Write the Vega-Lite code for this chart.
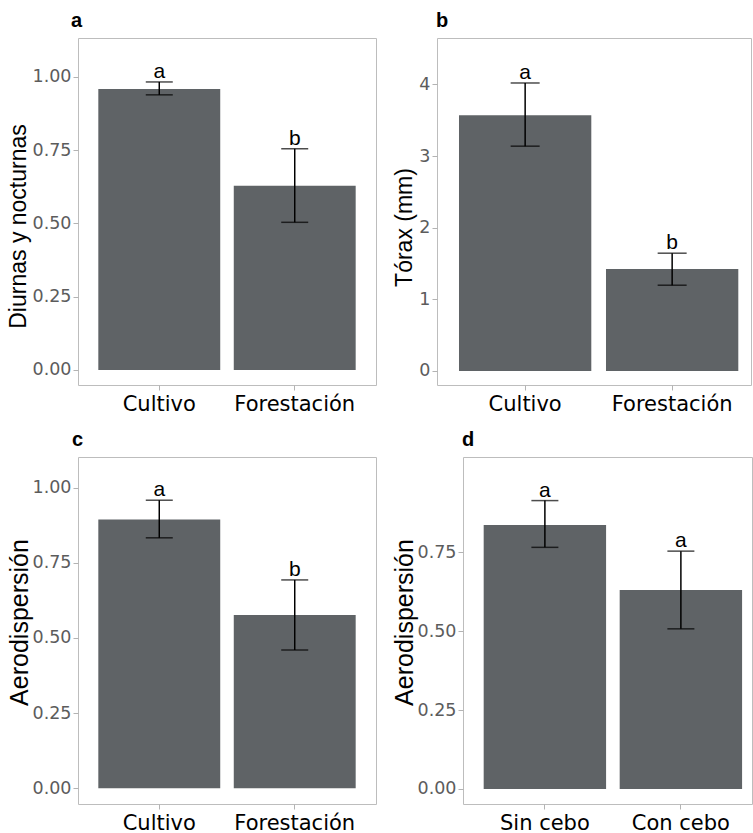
{
  "$schema": "https://vega.github.io/schema/vega-lite/v6.json",
  "padding": {"left": 6, "top": 10, "right": 0, "bottom": 0},
  "background": "white",
  "datasets": {
    "pa": [
      {"grupo": "Cultivo", "media": 0.959, "inf": 0.939, "sup": 0.983, "letra": "a"},
      {"grupo": "Forestación", "media": 0.629, "inf": 0.504, "sup": 0.755, "letra": "b"}
    ],
    "pb": [
      {"grupo": "Cultivo", "media": 3.571, "inf": 3.138, "sup": 4.02, "letra": "a"},
      {"grupo": "Forestación", "media": 1.425, "inf": 1.197, "sup": 1.644, "letra": "b"}
    ],
    "pc": [
      {"grupo": "Cultivo", "media": 0.894, "inf": 0.833, "sup": 0.958, "letra": "a"},
      {"grupo": "Forestación", "media": 0.576, "inf": 0.46, "sup": 0.693, "letra": "b"}
    ],
    "pd": [
      {"grupo": "Sin cebo", "media": 0.836, "inf": 0.765, "sup": 0.913, "letra": "a"},
      {"grupo": "Con cebo", "media": 0.63, "inf": 0.507, "sup": 0.753, "letra": "a"}
    ]
  },
  "vconcat": [
    {
      "hconcat": [
        {
          "title": {"text": "a", "dx": -7},
          "width": 298, "height": 347,
          "data": {"name": "pa"},
          "encoding": {
            "x": {"field": "grupo", "type": "nominal", "sort": null, "scale": {"paddingInner": 0.1, "paddingOuter": 0.15}}
          },
          "layer": [
            {"mark": {"type": "bar", "color": "#5f6366"},
             "encoding": {"y": {"field": "media", "type": "quantitative", "title": "Diurnas y nocturnas",
               "scale": {"domain": [-0.0512, 1.133], "nice": false, "zero": false},
               "axis": {"values": [0, 0.25, 0.5, 0.75, 1], "format": ".2f", "titleY": 188}}}},
            {"mark": {"type": "errorbar", "color": "black", "thickness": 1.5, "ticks": {"size": 27, "thickness": 1.5}},
             "encoding": {"y": {"field": "inf", "type": "quantitative", "title": "Diurnas y nocturnas"}, "y2": {"field": "sup"}}},
            {"mark": {"type": "text", "baseline": "alphabetic", "dy": -4, "fontSize": 21, "font": "Liberation Sans", "color": "black"},
             "encoding": {"y": {"field": "sup", "type": "quantitative", "title": "Diurnas y nocturnas"}, "text": {"field": "letra"}}}
          ]
        },
        {
          "title": {"text": "b", "dx": -1},
          "width": 314, "height": 347,
          "data": {"name": "pb"},
          "encoding": {
            "x": {"field": "grupo", "type": "nominal", "sort": null, "scale": {"paddingInner": 0.1, "paddingOuter": 0.118, "align": 0.634}}
          },
          "layer": [
            {"mark": {"type": "bar", "color": "#5f6366"},
             "encoding": {"y": {"field": "media", "type": "quantitative", "title": "Tórax (mm)",
               "scale": {"domain": [-0.196, 4.648], "nice": false, "zero": false},
               "axis": {"values": [0, 1, 2, 3, 4], "format": "d", "titleY": 189}}}},
            {"mark": {"type": "errorbar", "color": "black", "thickness": 1.5, "ticks": {"size": 29, "thickness": 1.5}},
             "encoding": {"y": {"field": "inf", "type": "quantitative", "title": "Tórax (mm)"}, "y2": {"field": "sup"}}},
            {"mark": {"type": "text", "baseline": "alphabetic", "dy": -4, "fontSize": 21, "font": "Liberation Sans", "color": "black"},
             "encoding": {"y": {"field": "sup", "type": "quantitative", "title": "Tórax (mm)"}, "text": {"field": "letra"}}}
          ]
        }
      ],
      "spacing": 16
    },
    {
      "hconcat": [
        {
          "title": {"text": "c", "dx": -6},
          "width": 298, "height": 347,
          "data": {"name": "pc"},
          "encoding": {
            "x": {"field": "grupo", "type": "nominal", "sort": null, "scale": {"paddingInner": 0.1, "paddingOuter": 0.15}}
          },
          "layer": [
            {"mark": {"type": "bar", "color": "#5f6366"},
             "encoding": {"y": {"field": "media", "type": "quantitative", "title": "Aerodispersión",
               "scale": {"domain": [-0.052, 1.1017], "nice": false, "zero": false},
               "axis": {"values": [0, 0.25, 0.5, 0.75, 1], "format": ".2f", "titleY": 165, "titleFontSize": 25, "titlePadding": 0}}}},
            {"mark": {"type": "errorbar", "color": "black", "thickness": 1.5, "ticks": {"size": 27, "thickness": 1.5}},
             "encoding": {"y": {"field": "inf", "type": "quantitative", "title": "Aerodispersión"}, "y2": {"field": "sup"}}},
            {"mark": {"type": "text", "baseline": "alphabetic", "dy": -4, "fontSize": 21, "font": "Liberation Sans", "color": "black"},
             "encoding": {"y": {"field": "sup", "type": "quantitative", "title": "Aerodispersión"}, "text": {"field": "letra"}}}
          ]
        },
        {
          "title": {"text": "d", "dx": -1},
          "width": 289, "height": 347,
          "data": {"name": "pd"},
          "encoding": {
            "x": {"field": "grupo", "type": "nominal", "sort": null, "scale": {"paddingInner": 0.1, "paddingOuter": 0.1125, "align": 0.676}}
          },
          "layer": [
            {"mark": {"type": "bar", "color": "#5f6366"},
             "encoding": {"y": {"field": "media", "type": "quantitative", "title": "Aerodispersión",
               "scale": {"domain": [-0.0475, 1.051], "nice": false, "zero": false},
               "axis": {"values": [0, 0.25, 0.5, 0.75], "format": ".2f", "titleY": 165, "titleFontSize": 25, "titlePadding": 0}}}},
            {"mark": {"type": "errorbar", "color": "black", "thickness": 1.5, "ticks": {"size": 27, "thickness": 1.5}},
             "encoding": {"y": {"field": "inf", "type": "quantitative", "title": "Aerodispersión"}, "y2": {"field": "sup"}}},
            {"mark": {"type": "text", "baseline": "alphabetic", "dy": -4, "fontSize": 21, "font": "Liberation Sans", "color": "black"},
             "encoding": {"y": {"field": "sup", "type": "quantitative", "title": "Aerodispersión"}, "text": {"field": "letra"}}}
          ]
        }
      ],
      "spacing": 14
    }
  ],
  "spacing": 14,
  "config": {
    "view": {"stroke": "#bdbdbd", "strokeWidth": 1},
    "title": {"anchor": "start", "frame": "group", "font": "Liberation Sans", "fontSize": 20, "fontWeight": "bold", "color": "black", "offset": 7},
    "axis": {"grid": false, "domain": false, "tickColor": "#b3b3b3", "tickSize": 5, "tickWidth": 1},
    "axisX": {"title": null, "labelAngle": 0, "labelFont": "DejaVu Sans", "labelFontSize": 21, "labelColor": "black", "labelPadding": 3},
    "axisY": {"labelFont": "DejaVu Sans", "labelFontSize": 17.5, "labelColor": "#5c5c5c", "labelPadding": 2,
      "titleFont": "Liberation Sans", "titleFontSize": 23, "titleFontWeight": "normal", "titleColor": "black", "titlePadding": 2}
  }
}
